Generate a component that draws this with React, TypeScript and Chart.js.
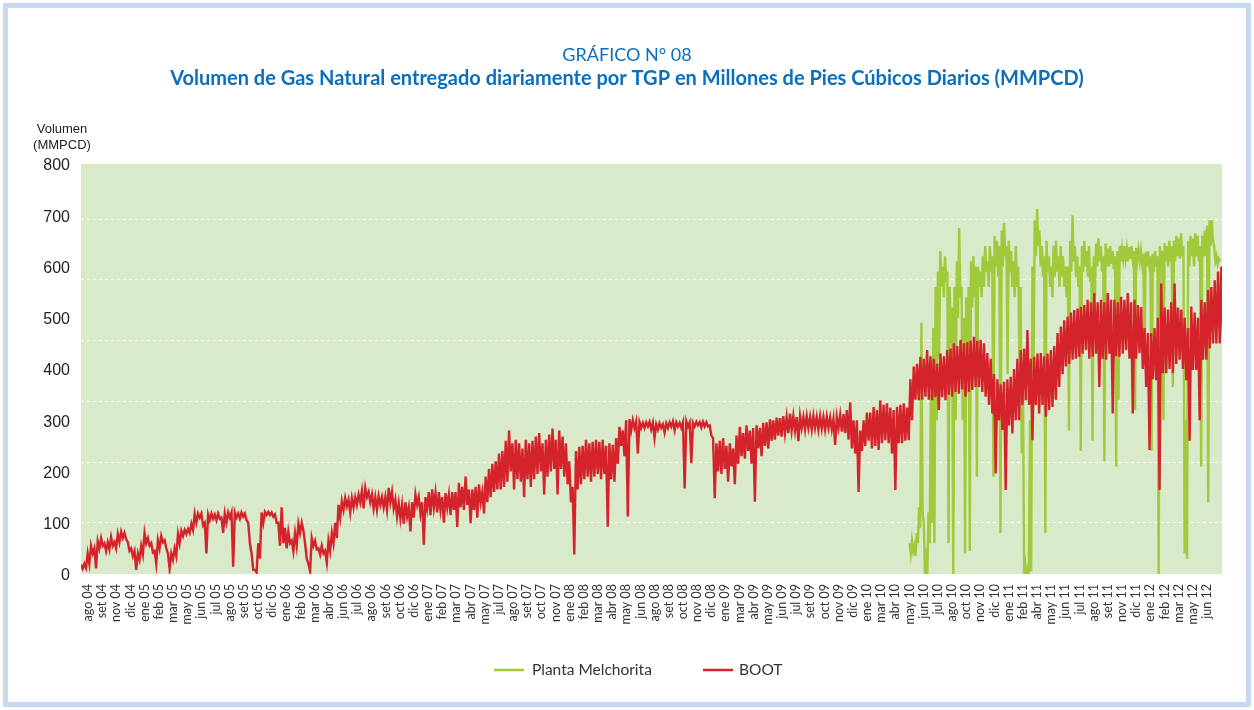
import React, { useEffect, useRef } from "react";
import { Chart, registerables } from "chart.js";

Chart.register(...registerables);

// Tick labels along the x axis (one every 36 days starting at day 18 after the first data day)
const xTickLabels = [
  "ago 04", "set 04", "nov 04", "dic 04",
  "ene 05", "feb 05", "mar 05", "may 05", "jun 05", "jul 05", "ago 05", "set 05", "oct 05", "dic 05",
  "ene 06", "feb 06", "mar 06", "abr 06", "jun 06", "jul 06", "ago 06", "set 06", "oct 06", "dic 06",
  "ene 07", "feb 07", "mar 07", "abr 07", "may 07", "jul 07", "ago 07", "set 07", "oct 07", "nov 07",
  "ene 08", "feb 08", "mar 08", "abr 08", "may 08", "jun 08", "ago 08", "set 08", "oct 08", "nov 08", "dic 08",
  "ene 09", "mar 09", "abr 09", "may 09", "jun 09", "jul 09", "set 09", "oct 09", "nov 09", "dic 09",
  "ene 10", "mar 10", "abr 10", "may 10", "jun 10", "jul 10", "ago 10", "oct 10", "nov 10", "dic 10",
  "ene 11", "feb 11", "abr 11", "may 11", "jun 11", "jul 11", "ago 11", "set 11", "nov 11", "dic 11",
  "ene 12", "feb 12", "mar 12", "may 12", "jun 12",
];
const firstTickDay = 18;
const tickStepDays = 36;
const lastDay = 2900;

// BOOT (MMPCD): daily high and low readings for each 8.5-day period
const bootStepDays = 8.5;
const bootHigh2004to2007 = [
  18, 20, 40, 55, 50, 64, 70, 60, 62, 72,
  62, 78, 82, 80, 62, 50, 45, 40, 55, 80,
  70, 60, 45, 66, 74, 66, 40, 40, 50, 78,
  84, 86, 88, 98, 117, 118, 118, 100, 116, 118,
  116, 118, 110, 118, 120, 120, 120, 118, 120, 118,
  100, 40, 8, 60, 120, 121, 121, 120, 116, 100,
  130, 90, 82, 65, 80, 98, 100, 60, 20, 70,
  65, 50, 55, 45, 65, 80, 100, 135, 142, 148,
  145, 148, 150, 155, 162, 168, 160, 155, 150, 152,
  150, 150, 168, 160, 145, 138, 135, 140, 130, 140,
  155, 150, 140, 150, 160, 165, 158, 160, 150, 158,
  155, 160, 160, 178, 170, 190, 165, 165, 170, 175,
];
const bootLow2004to2007 = [
  10, 12, 20, 40, 11, 50, 55, 45, 48, 55,
  50, 62, 70, 68, 45, 35, 8, 28, 38, 60,
  55, 42, 20, 50, 62, 50, 10, 28, 35, 60,
  74, 78, 80, 86, 100, 110, 95, 40, 105, 108,
  105, 108, 80, 100, 110, 14, 110, 108, 112, 105,
  60, 8, 3, 30, 100, 115, 115, 112, 100, 55,
  60, 50, 60, 45, 55, 80, 85, 30, 5, 55,
  48, 38, 40, 22, 45, 60, 70, 110, 125, 132,
  120, 130, 135, 140, 128, 150, 140, 128, 125, 135,
  130, 125, 140, 128, 112, 108, 98, 112, 83, 110,
  135, 118, 57, 128, 115, 130, 120, 125, 100, 130,
  115, 125, 92, 130, 125, 135, 99, 125, 110, 140,
];
const bootHigh2007to2012 = [
  160, 190, 205, 215, 220, 235, 240, 260, 280, 255,
  262, 255, 245, 262, 255, 260, 268, 275, 255, 262,
  272, 284, 262, 280, 268, 255, 220, 170, 240, 248,
  250, 262, 255, 258, 262, 258, 262, 250, 255, 252,
  265, 287, 280, 300, 302, 300, 298, 296, 295, 296,
  297, 295, 292, 294, 292, 294, 296, 298, 296, 295,
  296, 298, 296, 295, 297, 296, 297, 296, 290, 265,
  255, 260, 265, 250, 255, 245, 270, 287, 275, 290,
  280, 285, 290, 285, 295, 296, 302, 300, 305, 304,
  308, 306, 313, 308, 306, 308, 306, 308, 306, 308,
  306, 308, 306, 307, 305, 303, 306, 310, 312, 320,
  335, 300, 300, 280, 300, 315, 315, 326, 320, 339,
  330, 333, 325, 320, 326, 330, 333, 325, 380, 405,
  410, 424, 420, 437, 425, 420, 410, 430, 425, 437,
  440, 450, 445, 457, 450, 452, 455, 463, 455, 457,
  450, 431, 420, 390, 380, 370, 375, 380, 385, 400,
  420, 437, 440, 476, 420, 424, 430, 431, 425, 430,
  437, 445, 470, 483, 495, 502, 510, 515, 518, 521,
  525, 535, 530, 548, 530, 535, 530, 548, 535, 535,
  530, 541, 535, 548, 530, 535, 525, 521, 480, 470,
  470, 480, 500, 567, 520, 516, 530, 567, 520, 516,
  500, 480, 522, 510, 500, 535, 530, 554, 560, 573,
  590, 600,
];
const bootLow2007to2012 = [
  118, 140, 150, 160, 165, 165, 170, 180, 200, 165,
  185, 180, 150, 185, 170, 185, 195, 200, 155, 190,
  200, 205, 155, 205, 190, 175, 140, 38, 165, 175,
  185, 190, 180, 190, 195, 185, 195, 92, 185, 180,
  215, 250, 230, 112, 280, 285, 235, 285, 285, 288,
  282, 265, 282, 285, 276, 285, 288, 280, 288, 285,
  167, 288, 216, 288, 290, 286, 288, 288, 270, 148,
  200, 195, 205, 180, 210, 175, 215, 230, 225, 240,
  215, 141, 245, 230, 250, 245, 260, 262, 270, 268,
  275, 275, 280, 280, 259, 285, 282, 285, 282, 285,
  282, 284, 282, 285, 282, 252, 285, 278, 275, 262,
  245, 235, 160, 240, 250, 260, 245, 250, 242, 255,
  261, 255, 235, 164, 255, 255, 260, 261, 300, 340,
  339, 340, 346, 340, 339, 345, 320, 345, 339, 350,
  346, 355, 352, 360, 346, 355, 359, 365, 365, 355,
  346, 330, 313, 196, 300, 281, 164, 290, 274, 300,
  300, 330, 339, 330, 261, 330, 313, 330, 307, 320,
  326, 340, 365, 390, 405, 410, 418, 420, 424, 430,
  437, 420, 424, 430, 365, 420, 418, 430, 313, 425,
  424, 430, 437, 420, 313, 420, 431, 400, 365, 242,
  380, 378, 164, 392, 392, 400, 392, 410, 418, 400,
  378, 260, 398, 398, 300, 418, 418, 440, 450, 450,
  450, 460,
];

// Planta Melchorita (MMPCD): high and low readings per 6-day period from day 2106 (May 2010)
const melchoritaStartDay = 2106;
const melchoritaStepDays = 6;
const melchoritaHigh = [
  60, 65, 55, 80, 130, 490, 100, 50, 120, 350,
  480, 560, 590, 630, 600, 620, 590, 560, 520, 560,
  610, 675, 560, 500, 540, 560, 610, 620, 600, 600,
  590, 620, 640, 610, 640, 620, 660, 650, 640, 670,
  685, 640, 650, 630, 610, 640, 600, 560, 400, 20,
  10, 300, 600, 690, 712, 670, 640, 620, 650, 620,
  600, 640, 650, 620, 640, 620, 600, 600, 650, 700,
  640, 620, 600, 640, 650, 630, 640, 600, 620, 645,
  655, 640, 620, 645, 635, 640, 630, 620, 630, 640,
  635, 640, 635, 638, 640, 630, 636, 632, 630, 625,
  628, 630, 620, 625, 630, 620, 640, 630, 645, 640,
  650, 640, 650, 660, 655, 665, 640, 300, 650, 660,
  655, 665, 660, 640, 660, 670, 680, 690, 690, 640,
  620, 615,
];
const melchoritaLow = [
  40, 45, 35, 60, 90, 120, 0, 0, 60, 100,
  60, 300, 420, 560, 540, 570, 60, 450, 0, 300,
  500, 540, 300, 40, 380, 45, 520, 540, 190, 560,
  540, 560, 590, 560, 590, 190, 600, 580, 80, 600,
  620, 390, 590, 560, 540, 560, 420, 235, 0, 0,
  0, 5, 400, 620, 640, 600, 580, 80, 590, 560,
  540, 580, 590, 560, 580, 560, 540, 280, 590, 610,
  580, 560, 240, 590, 600, 580, 570, 260, 540, 600,
  610, 590, 220, 600, 600, 605, 595, 210, 340, 610,
  615, 615, 610, 615, 615, 320, 612, 610, 605, 410,
  600, 605, 240, 590, 600, 0, 600, 300, 610, 600,
  610, 365, 610, 620, 615, 620, 40, 30, 600, 620,
  600, 620, 610, 210, 620, 620, 140, 640, 650, 610,
  605, 610,
];

const yGridValues = [101, 219.5, 338, 456.5, 575, 693.5];

const RED = "#d5232b";
const GREEN = "#a0c93c";
const BLUE = "#0b6fbe";
const PLOT_BG = "#d9eacb";
const SANS = "Lato, 'Open Sans', sans-serif";
const ARIAL = "'Liberation Sans', Arial, sans-serif";

function interleave(start: number, step: number, hi: number[], lo: number[]) {
  const out: { x: number; y: number }[] = [];
  hi.forEach((h, i) => {
    const day = start + i * step;
    out.push({ x: day, y: h });
    out.push({ x: day + step / 2, y: lo[i] });
  });
  return out;
}

export default function App() {
  const ref = useRef<HTMLCanvasElement>(null);

  useEffect(() => {
    if (!ref.current) return;
    const bootData = [
      ...interleave(0, bootStepDays, bootHigh2004to2007, bootLow2004to2007),
      ...interleave(bootHigh2004to2007.length * bootStepDays, bootStepDays, bootHigh2007to2012, bootLow2007to2012),
    ];
    const melData = interleave(melchoritaStartDay, melchoritaStepDays, melchoritaHigh, melchoritaLow);

    const decor = {
      id: "decor",
      beforeDraw(chart: any) {
        const { ctx, chartArea: a } = chart;
        ctx.save();
        ctx.fillStyle = "#ffffff";
        ctx.fillRect(0, 0, chart.width, chart.height);
        ctx.fillStyle = PLOT_BG;
        ctx.fillRect(a.left, a.top, a.right - a.left, a.bottom - a.top);
        ctx.restore();
      },
      beforeDatasetsDraw(chart: any) {
        const { ctx, chartArea: a, scales } = chart;
        ctx.save();
        ctx.strokeStyle = "rgba(255,255,255,0.95)";
        ctx.lineWidth = 1;
        ctx.setLineDash([3, 3]);
        yGridValues.forEach((v) => {
          const y = Math.round(scales.y.getPixelForValue(v)) + 0.5;
          ctx.beginPath();
          ctx.moveTo(a.left, y);
          ctx.lineTo(a.right, y);
          ctx.stroke();
        });
        ctx.restore();
      },
      afterDraw(chart: any) {
        const { ctx } = chart;
        const cx = chart.width / 2;
        ctx.save();
        // frame
        ctx.strokeStyle = "#c6d9f1";
        ctx.lineWidth = 5;
        ctx.strokeRect(5.5, 5.5, chart.width - 11, chart.height - 11);
        // titles
        ctx.fillStyle = BLUE;
        ctx.textAlign = "center";
        ctx.textBaseline = "middle";
        ctx.font = `18px ${SANS}`;
        ctx.fillText("GRÁFICO N° 08", cx, 55);
        ctx.font = `bold 20px ${SANS}`;
        ctx.fillText(
          "Volumen de Gas Natural entregado diariamente por TGP en Millones de Pies Cúbicos Diarios (MMPCD)",
          cx,
          79
        );
        // y axis title
        ctx.fillStyle = "#222";
        ctx.font = `13px ${ARIAL}`;
        ctx.fillText("Volumen", 62, 129);
        ctx.fillText("(MMPCD)", 62, 145);
        // legend
        const ly = 670;
        ctx.lineWidth = 2.5;
        ctx.strokeStyle = GREEN;
        ctx.beginPath();
        ctx.moveTo(494, ly);
        ctx.lineTo(524, ly);
        ctx.stroke();
        ctx.strokeStyle = RED;
        ctx.beginPath();
        ctx.moveTo(703, ly);
        ctx.lineTo(733, ly);
        ctx.stroke();
        ctx.fillStyle = "#333";
        ctx.textAlign = "left";
        ctx.font = `15.5px ${SANS}`;
        ctx.fillText("Planta Melchorita", 532, ly);
        ctx.fillText("BOOT", 739, ly);
        ctx.restore();
      },
    };

    const chart = new Chart(ref.current, {
      type: "line",
      data: {
        datasets: [
          {
            label: "BOOT",
            data: bootData,
            borderColor: RED,
            backgroundColor: RED,
            borderWidth: 2.4,
            pointRadius: 0,
            tension: 0,
            order: 0,
          },
          {
            label: "Planta Melchorita",
            data: melData,
            borderColor: GREEN,
            backgroundColor: GREEN,
            borderWidth: 2.4,
            pointRadius: 0,
            tension: 0,
            order: 1,
          },
        ],
      },
      options: {
        responsive: false,
        animation: false,
        devicePixelRatio: 1,
        layout: { padding: { left: 0, top: 164, right: 32, bottom: 0 } },
        plugins: {
          legend: { display: false },
          tooltip: { enabled: false },
          title: { display: false },
        },
        scales: {
          x: {
            type: "linear",
            min: 0,
            max: lastDay,
            grid: { display: false, drawTicks: false },
            border: { display: false },
            afterBuildTicks: (axis: any) => {
              axis.ticks = xTickLabels.map((_, i) => ({ value: firstTickDay + i * tickStepDays }));
            },
            afterFit: (axis: any) => {
              axis.height = 136;
            },
            ticks: {
              autoSkip: false,
              minRotation: 90,
              maxRotation: 90,
              padding: 10,
              color: "#333",
              font: { family: SANS, size: 12.5 },
              callback: (_v: any, i: number) => xTickLabels[i],
            },
          },
          y: {
            min: 0,
            max: 800,
            grid: { display: false, drawTicks: false },
            border: { display: false },
            afterFit: (axis: any) => {
              axis.width = 81;
            },
            ticks: {
              stepSize: 100,
              padding: 11,
              labelOffset: 2,
              color: "#222",
              font: { family: ARIAL, size: 16 },
            },
          },
        },
      },
      plugins: [decor],
    } as any);

    return () => chart.destroy();
  }, []);

  return (
    <div style={{ position: "fixed", left: 0, top: 0, width: 1254, height: 710, background: "#fff" }}>
      <canvas ref={ref} width={1254} height={710} style={{ display: "block", width: 1254, height: 710 }} />
    </div>
  );
}
